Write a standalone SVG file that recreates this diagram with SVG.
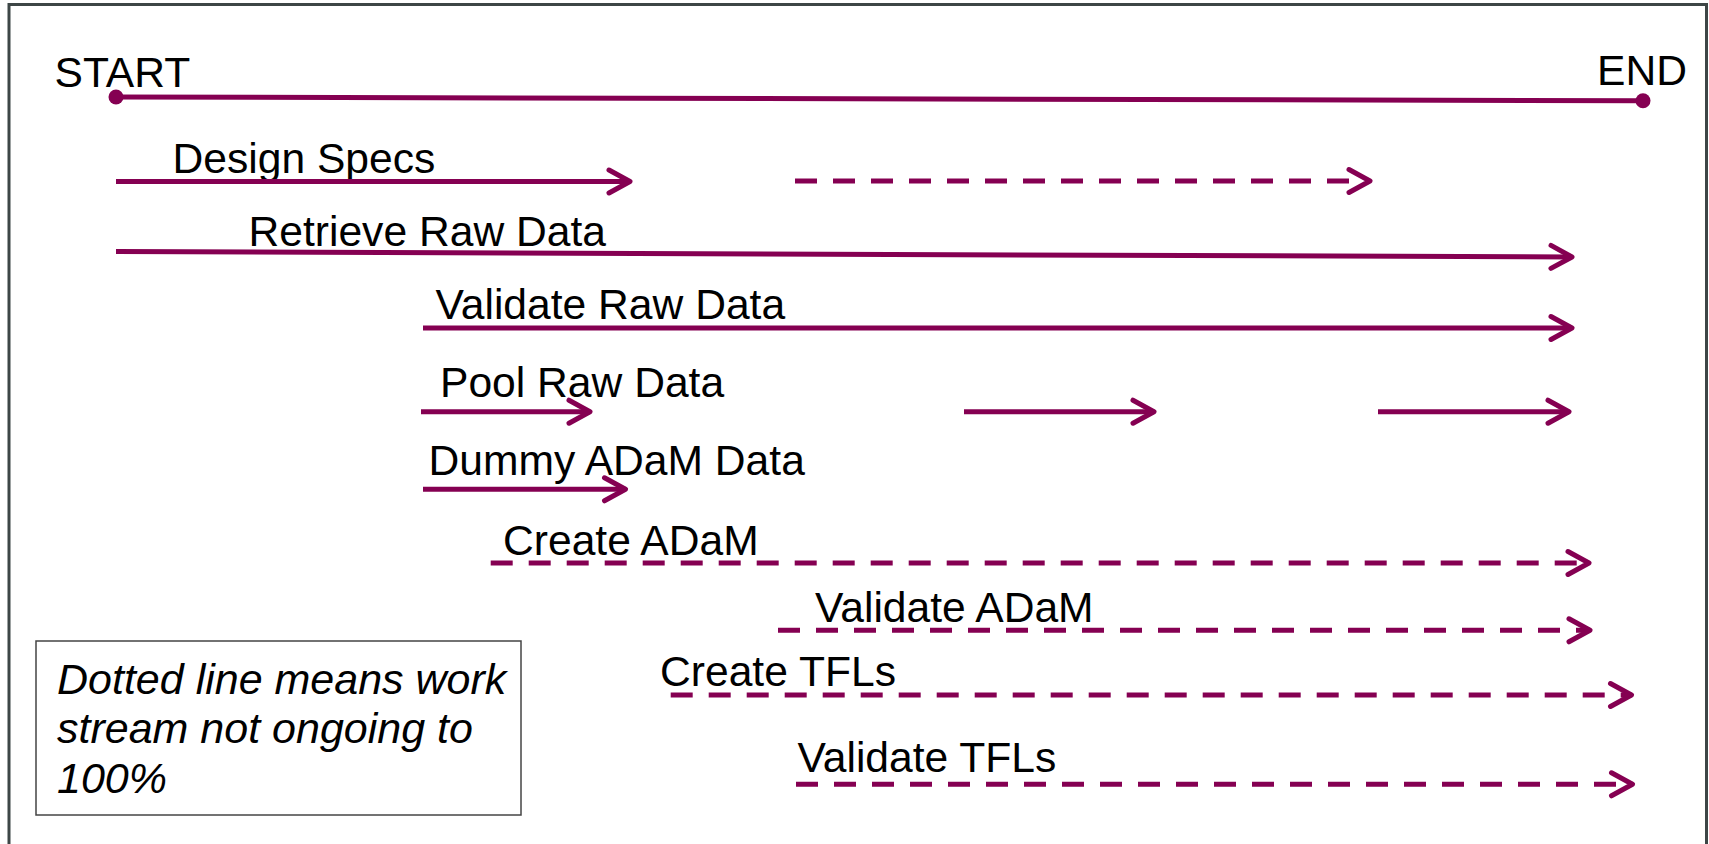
<svg xmlns="http://www.w3.org/2000/svg" width="1709" height="844" viewBox="0 0 1709 844">
  <style>
    .lbl { font-family: "Liberation Sans", Arial, sans-serif; font-size: 42.6px; fill: #000; }
    .note { font-family: "Liberation Sans", Arial, sans-serif; font-size: 43px; font-style: italic; fill: #000; }
    .flow { fill: none; stroke: #850052; stroke-width: 5; }
    .solid { marker-end: url(#chev); }
    .dash { stroke-dasharray: 22 16; marker-end: url(#chev); }
    .dot { fill: #850052; }
  </style>
  <defs>
    <marker id="chev" markerUnits="userSpaceOnUse" markerWidth="40" markerHeight="40" refX="0" refY="0" orient="auto" overflow="visible">
      <path d="M-21,-11.5 L0,0 L-21,11.5" fill="none" stroke="#850052" stroke-width="5" stroke-linecap="round" stroke-linejoin="round" stroke-dasharray="none"/>
    </marker>
  </defs>

  <rect x="0" y="0" width="1709" height="844" fill="#fff"/>
  <!-- outer frame -->
  <rect x="9" y="4.5" width="1697.5" height="900" fill="none" stroke="#3d4646" stroke-width="3"/>

  <!-- overall timeline -->
  <g id="timeline">
    <line class="flow" x1="116" y1="97" x2="1643" y2="100.7"/>
    <circle class="dot" cx="116" cy="97" r="7.5"/>
    <circle class="dot" cx="1643" cy="100.7" r="7.5"/>
    <text class="lbl" x="54.5" y="87">START</text>
    <text class="lbl" x="1597" y="84.5">END</text>
  </g>

  <!-- work stream labels -->
  <g id="design-specs"><text class="lbl" x="172.5" y="173.3">Design Specs</text></g>
  <g id="retrieve-raw"><text class="lbl" x="248.5" y="245.7">Retrieve Raw Data</text></g>
  <g id="validate-raw"><text class="lbl" x="435.5" y="319.3">Validate Raw Data</text></g>
  <g id="pool-raw"><text class="lbl" x="440" y="396.7">Pool Raw Data</text></g>
  <g id="dummy-adam"><text class="lbl" x="428.5" y="475">Dummy ADaM Data</text></g>
  <g id="create-adam"><text class="lbl" x="503" y="555">Create ADaM</text></g>
  <g id="validate-adam"><text class="lbl" x="815" y="621.7">Validate ADaM</text></g>
  <g id="create-tfls"><text class="lbl" x="660" y="685.7">Create TFLs</text></g>
  <g id="validate-tfls"><text class="lbl" x="797.5" y="772.3">Validate TFLs</text></g>

  <!-- work stream bars -->
  <g id="connectors">
    <line class="flow solid" x1="116" y1="181.5" x2="630" y2="181.5"/>
    <line class="flow dash" x1="795" y1="181" x2="1370" y2="181"/>
    <line class="flow solid" x1="116" y1="251.5" x2="1572" y2="257"/>
    <line class="flow solid" x1="423" y1="328" x2="1572" y2="328"/>
    <line class="flow solid" x1="421" y1="411.7" x2="590" y2="411.7"/>
    <line class="flow solid" x1="964" y1="411.7" x2="1154" y2="411.7"/>
    <line class="flow solid" x1="1378" y1="411.7" x2="1569" y2="411.7"/>
    <line class="flow solid" x1="423" y1="489.3" x2="625.5" y2="489.3"/>
    <line class="flow dash" x1="490.7" y1="563" x2="1589" y2="563"/>
    <line class="flow dash" x1="778" y1="630.3" x2="1590" y2="630.3"/>
    <line class="flow dash" x1="670.7" y1="695" x2="1631.5" y2="695"/>
    <line class="flow dash" x1="796" y1="784.3" x2="1632.5" y2="784.3"/>
  </g>

  <!-- legend -->
  <g id="legend">
    <rect x="36" y="641" width="485" height="174" fill="#fff" stroke="#444" stroke-width="1.5"/>
    <text class="note" x="57" y="694">Dotted line means work</text>
    <text class="note" x="57" y="743">stream not ongoing to</text>
    <text class="note" x="57" y="793">100%</text>
  </g>
</svg>
